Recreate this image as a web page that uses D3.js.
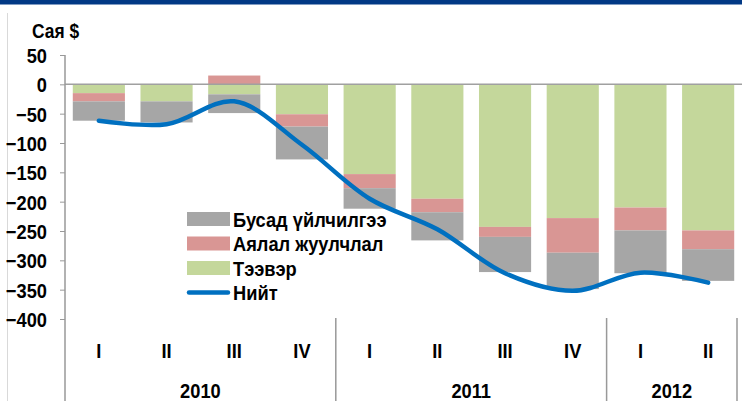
<!DOCTYPE html>
<html>
<head>
<meta charset="utf-8">
<script src="https://cdn.jsdelivr.net/npm/d3@7"></script>
<style>
  body { margin: 0; background: #fff; }
  svg { display: block; font-family: "Liberation Sans", Arial, sans-serif; font-weight: bold; }
</style>
</head>
<body>
<svg width="742" height="401"></svg>
<script>
// quarters and years
var quarters = ["I", "II", "III", "IV", "I", "II", "III", "IV", "I", "II"];
var years = ["2010", "2011", "2012"];
var yearSpan = [4, 4, 2];

// series, million $
var teever = [-15, -29, -17, -51, -153, -195, -243, -228, -210, -249];
var ayalal = [-14, 0, 15, -21, -24, -23, -17, -59, -39, -32];
var busad = [-33, -36, -32, -56, -35, -48, -60, -62, -73, -54];
var niit = [-62, -68, -29, -103, -195, -247, -322, -352, -321, -338];

var yTicks = [50, 0, -50, -100, -150, -200, -250, -300, -350, -400];

var keys = ["teever", "ayalal", "busad"];
var colors = {teever: "#c4d79b", ayalal: "#d99694", busad: "#a6a6a6"};

// the source font is a narrow bold face, squeeze text horizontally
var K = 0.87;
function squeeze(sel) {
  sel.each(function() {
    var t = d3.select(this);
    var x0 = +t.attr("x") || 0;
    t.attr("x", x0 / K).attr("transform", "scale(" + K + ",1)");
  });
}

var rows = quarters.map(function(q, i) {
  return {i: i, teever: teever[i], ayalal: ayalal[i], busad: busad[i]};
});

var svg = d3.select("svg");

// header strip and frame
svg.append("rect").attr("x", 0).attr("y", 0).attr("width", 742).attr("height", 4.5)
  .attr("fill", "#023985");
svg.append("line").attr("x1", 7.5).attr("x2", 7.5).attr("y1", 13).attr("y2", 401)
  .attr("stroke", "#d9d9d9");

var x = d3.scaleBand().domain(d3.range(quarters.length)).range([65, 742]).padding(0);
var y = d3.scaleLinear().domain([-400, 50]).range([319, 55]);
var barW = x.bandwidth() * 0.77;

var series = d3.stack().keys(keys).offset(d3.stackOffsetDiverging)(rows);

svg.append("g").selectAll("g")
  .data(series)
  .enter().append("g")
  .attr("fill", function(d) { return colors[d.key]; })
  .selectAll("rect")
  .data(function(d) { return d; })
  .enter().append("rect")
  .attr("x", function(d) { return x(d.data.i) + (x.bandwidth() - barW) / 2; })
  .attr("width", barW)
  .attr("y", function(d) { return y(Math.max(d[0], d[1])); })
  .attr("height", function(d) { return Math.abs(y(d[0]) - y(d[1])); });

// zero line
svg.append("line")
  .attr("x1", 65).attr("x2", 742).attr("y1", y(0)).attr("y2", y(0))
  .attr("stroke", "#a0a0a0").attr("stroke-width", 1.5);

// y axis
var yAxis = d3.axisLeft(y).tickValues(yTicks).tickSize(5).tickPadding(13);
var gy = svg.append("g").attr("transform", "translate(65,0)").call(yAxis);
gy.select(".domain").remove();
gy.selectAll(".tick line").attr("stroke", "#999");
gy.selectAll("text").attr("font-size", 21).attr("fill", "#000")
  .attr("font-family", "Liberation Sans, Arial, sans-serif").attr("font-weight", "bold")
  .attr("dy", "0.35em").call(squeeze);
svg.append("line").attr("x1", 65).attr("x2", 65).attr("y1", y(50)).attr("y2", 401)
  .attr("stroke", "#999").attr("stroke-width", 1.5);

svg.append("text").attr("x", 32).attr("y", 38).attr("font-size", 20).text("Сая $").call(squeeze);

// category labels
svg.append("g").selectAll("text")
  .data(quarters)
  .enter().append("text")
  .attr("x", function(d, i) { return x(i) + x.bandwidth() / 2; })
  .attr("y", 358)
  .attr("text-anchor", "middle")
  .attr("font-size", 21)
  .text(function(d) { return d; })
  .call(squeeze);

var start = 0;
years.forEach(function(yr, k) {
  var x0 = x(start), x1 = x(start + yearSpan[k] - 1) + x.bandwidth();
  if (x1 > 737) x1 = 737;
  svg.append("text").attr("x", (x0 + x1) / 2).attr("y", 398)
    .attr("text-anchor", "middle").attr("font-size", 21).text(yr).call(squeeze);
  svg.append("line").attr("x1", x1).attr("x2", x1).attr("y1", 318).attr("y2", 401)
    .attr("stroke", "#999").attr("stroke-width", 1.5);
  start += yearSpan[k];
});

// total line
var line = d3.line()
  .x(function(d, i) { return x(i) + x.bandwidth() / 2; })
  .y(function(d) { return y(d); })
  .curve(d3.curveCatmullRom.alpha(0.5));
svg.append("path").datum(niit)
  .attr("d", line)
  .attr("fill", "none")
  .attr("stroke", "#0070c0")
  .attr("stroke-width", 4.5)
  .attr("stroke-linecap", "round");

// legend
var legend = [
  {label: "Бусад үйлчилгээ", key: "busad"},
  {label: "Аялал жуулчлал", key: "ayalal"},
  {label: "Тээвэр", key: "teever"},
  {label: "Нийт", key: "niit"}
];
var lg = svg.append("g").selectAll("g")
  .data(legend)
  .enter().append("g")
  .attr("transform", function(d, i) { return "translate(187," + (219 + i * 24.5) + ")"; });
lg.filter(function(d) { return d.key != "niit"; }).append("rect")
  .attr("x", 0).attr("y", -7).attr("width", 43).attr("height", 14)
  .attr("fill", function(d) { return colors[d.key]; });
lg.filter(function(d) { return d.key == "niit"; }).append("line")
  .attr("x1", 2).attr("x2", 41).attr("y1", 0).attr("y2", 0)
  .attr("stroke", "#0070c0").attr("stroke-width", 4.5).attr("stroke-linecap", "round");
lg.append("text").attr("x", 46).attr("y", 7.5).attr("font-size", 21)
  .text(function(d) { return d.label; })
  .call(squeeze);
</script>
</body>
</html>
